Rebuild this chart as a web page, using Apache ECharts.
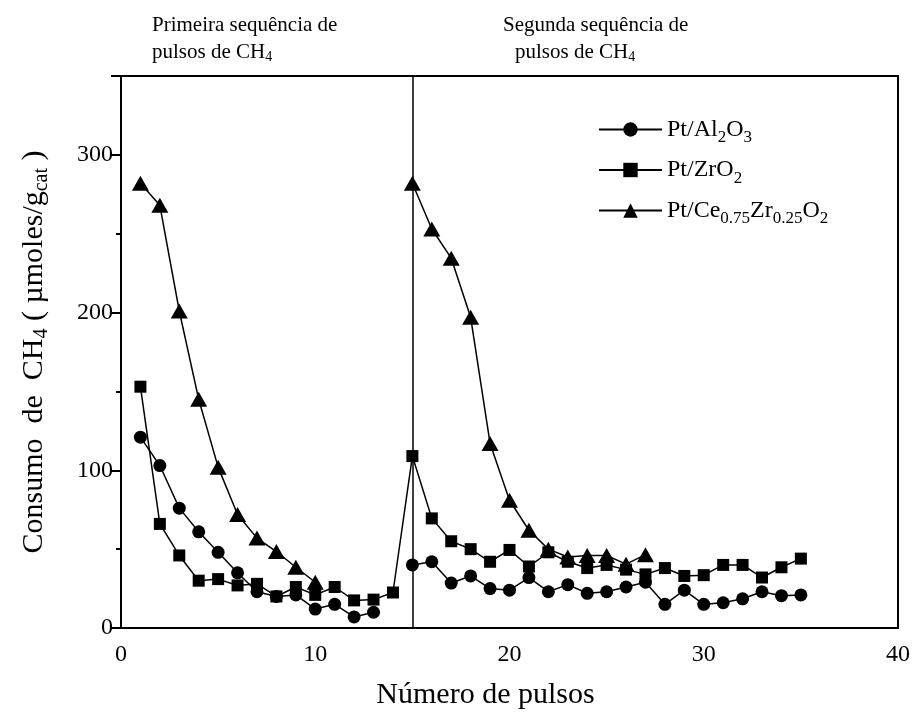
<!DOCTYPE html>
<html><head><meta charset="utf-8">
<script src="https://cdn.jsdelivr.net/npm/echarts@6/dist/echarts.min.js"></script>
<style>html,body{margin:0;padding:0;background:#fff}#c{width:914px;height:715px}</style>
</head><body><div id="c"></div>
<script>
const pulses = [1,2,3,4,5,6,7,8,9,10,11,12,13,14,15,16,17,18,19,20,21,22,23,24,25,26,27,28,29,30,31,32,33,34,35];
const aluminaValues = [121,103,76,61,48,35,23,20,21,12,15,7,10,null,40,42,28.5,33,25,24,32,23,27.5,22,23,26,29,15,24,15,16,18.5,23,20.5,21];
const zirconiaValues = [153,66,46,30,31,27,28,20,26,21,26,17.5,18,22.5,109,69.5,55,50,42,49.5,39,48,42,38,40,37,34,38,33,33.5,40,40,32,38.5,44];
const ceriaValues = [282,268,201,145,102,72,57,48.5,38.5,29,null,null,null,null,282,253,234.5,197,117,81,62,50,45,46,46,40.5,46.5,null,null,null,null,null,null,null,null];
const seriesNames = ['Pt/Al2O3','Pt/ZrO2','Pt/Ce0.75Zr0.25O2'];
const xTicks = [0,10,20,30,40];
const yTicks = [0,100,200,300];
const secondPulseStart = 15;

const FONT = 'Liberation Serif';
const toPairs = arr => pulses.map((p,i) => [p, arr[i] == null ? '-' : arr[i]]);
const legendRich = {
  m: {fontFamily: FONT, fontSize: 24, color: '#000', lineHeight: 24},
  s: {fontFamily: FONT, fontSize: 17, color: '#000', lineHeight: 16, padding: [17,0,0,0]}
};
const legendLabels = {
  'Pt/Al2O3': '{m|Pt/Al}{s|2}{m|O}{s|3}',
  'Pt/ZrO2': '{m|Pt/ZrO}{s|2}',
  'Pt/Ce0.75Zr0.25O2': '{m|Pt/Ce}{s|0.75}{m|Zr}{s|0.25}{m|O}{s|2}'
};

const chart = echarts.init(document.getElementById('c'), null, {renderer: 'canvas'});
const baseLine = (name, data, symbol, size) => ({
  name, type: 'line', data: toPairs(data), symbol, symbolSize: size,
  connectNulls: false,
  itemStyle: {color: '#000'},
  lineStyle: {color: '#000', width: 1.5},
  emphasis: {disabled: true}
});
const sCeria = baseLine(seriesNames[2], ceriaValues, 'triangle', [17,15]);
sCeria.markLine = {
  silent: true, symbol: ['none','none'], label: {show: false},
  lineStyle: {color: '#000', width: 1.5, type: 'solid'},
  data: [{xAxis: secondPulseStart}]
};
const option = {
  animation: false,
  backgroundColor: '#fff',
  grid: {left: 121, right: 16, top: 76, bottom: 83, show: true, borderColor: '#000', borderWidth: 2, backgroundColor: 'transparent'},
  legend: {
    orient: 'vertical', left: 598, top: 112.5, padding: 0,
    itemWidth: 63, itemHeight: 18, itemGap: 6.5,
    data: seriesNames,
    formatter: n => legendLabels[n],
    textStyle: {rich: legendRich}
  },
  xAxis: {
    type: 'value', min: xTicks[0], max: xTicks[xTicks.length-1], interval: 10,
    axisLine: {show: true, lineStyle: {color: '#000', width: 2}},
    axisTick: {show: false},
    splitLine: {show: false},
    axisLabel: {color: '#000', fontFamily: FONT, fontSize: 24, margin: 15},
    name: 'Número de pulsos', nameLocation: 'middle', nameGap: 52,
    nameTextStyle: {color: '#000', fontFamily: FONT, fontSize: 30, lineHeight: 30, padding: [0,48,0,0]}
  },
  yAxis: [{
    type: 'value', min: 0, max: 350, interval: 100,
    axisLine: {show: true, lineStyle: {color: '#000', width: 2}},
    axisTick: {show: true, length: 10, lineStyle: {color: '#000', width: 2}},
    splitLine: {show: false},
    axisLabel: {color: '#000', fontFamily: FONT, fontSize: 24, margin: 8,
      formatter: v => yTicks.indexOf(v) >= 0 ? String(v) : ''},
    name: '{m|Consumo  de  CH}{s|4}{m| ( µmoles/g}{s|cat}{m| )}',
    nameLocation: 'middle', nameGap: 72, nameRotate: 90,
    nameTextStyle: {rich: {
      m: {fontFamily: FONT, fontSize: 30, color: '#000', lineHeight: 30},
      s: {fontFamily: FONT, fontSize: 20, color: '#000', lineHeight: 20, padding: [16,0,0,0]}
    }}
  }, {
    type: 'value', min: 0, max: 350, interval: 50, position: 'left',
    axisLine: {show: false},
    axisTick: {show: true, length: 5, lineStyle: {color: '#000', width: 2}},
    splitLine: {show: false},
    axisLabel: {show: false}
  }],
  graphic: [
    {type: 'text', x: 152, y: 25, style: {text: 'Primeira sequência de', fontFamily: FONT, fontSize: 21, fill: '#000', verticalAlign: 'middle', align: 'left'}},
    {type: 'text', x: 152, y: 52, style: {text: '{m|pulsos de CH}{s|4}', verticalAlign: 'middle', align: 'left',
      rich: {m: {fontFamily: FONT, fontSize: 21, fill: '#000', lineHeight: 24}, s: {fontFamily: FONT, fontSize: 14, fill: '#000', lineHeight: 14, padding: [10,0,0,0]}}}},
    {type: 'text', x: 503, y: 25, style: {text: 'Segunda sequência de', fontFamily: FONT, fontSize: 21, fill: '#000', verticalAlign: 'middle', align: 'left'}},
    {type: 'text', x: 515, y: 52, style: {text: '{m|pulsos de CH}{s|4}', verticalAlign: 'middle', align: 'left',
      rich: {m: {fontFamily: FONT, fontSize: 21, fill: '#000', lineHeight: 24}, s: {fontFamily: FONT, fontSize: 14, fill: '#000', lineHeight: 14, padding: [10,0,0,0]}}}}
  ],
  series: [
    baseLine(seriesNames[0], aluminaValues, 'circle', 13),
    baseLine(seriesNames[1], zirconiaValues, 'rect', 12),
    sCeria
  ]
};
chart.setOption(option);
</script>
</body></html>
